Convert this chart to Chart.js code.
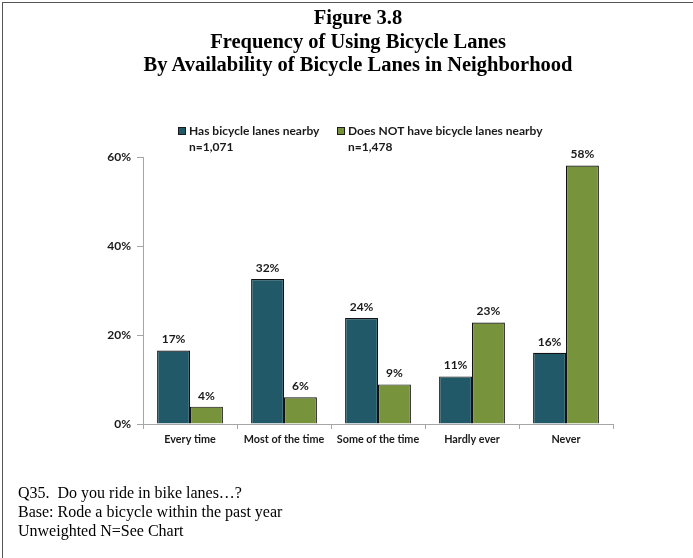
<!DOCTYPE html>
<html>
<head>
<meta charset="utf-8">
<script src="https://cdn.jsdelivr.net/npm/chart.js@4.4.1/dist/chart.umd.min.js"></script>
<style>
  html, body { margin: 0; padding: 0; background: #fff; }
  body { width: 693px; height: 558px; position: relative; overflow: hidden; }
  #frame { position: absolute; left: 2px; top: 2px; width: 700px; height: 600px;
           border-left: 1px solid #555; border-top: 1px solid #555; }
  #c { position: absolute; left: 0; top: 0; }
  .title { position: absolute; left: 108px; width: 500px; text-align: center;
           font-family: "Liberation Serif", "Times New Roman", serif; font-weight: bold;
           font-size: 20.5px; color: #000; line-height: 22px; white-space: nowrap; }
  .foot { position: absolute; left: 18px; font-family: "Liberation Serif", "Times New Roman", serif;
          font-size: 16px; color: #000; line-height: 18px; white-space: nowrap; }
</style>
</head>
<body>
<div id="frame"></div>
<canvas id="c" width="693" height="558"></canvas>
<div class="title" style="top:6px">Figure 3.8</div>
<div class="title" style="top:30px">Frequency of Using Bicycle Lanes</div>
<div class="title" style="top:53px">By Availability of Bicycle Lanes in Neighborhood</div>
<div class="foot" style="top:484px">Q35.&nbsp; Do you ride in bike lanes…?</div>
<div class="foot" style="top:503px">Base: Rode a bicycle within the past year</div>
<div class="foot" style="top:522px">Unweighted N=See Chart</div>
<script>
const categories = ['Every time', 'Most of the time', 'Some of the time', 'Hardly ever', 'Never'];
const seriesNames = ['Has bicycle lanes nearby', 'Does NOT have bicycle lanes nearby'];
const seriesN = ['n=1,071', 'n=1,478'];
const hasLanes = [16.5, 32.6, 23.8, 10.7, 16.0];
const noLanes = [3.9, 6.0, 8.9, 22.8, 58.1];
const hasLabels = ['17%', '32%', '24%', '11%', '16%'];
const noLabels = ['4%', '6%', '9%', '23%', '58%'];
const yTicks = [0, 20, 40, 60];

const colors = ['#215968', '#77933C'];
const FONT = 'Lato, "Open Sans", sans-serif';

const valueLabelPlugin = {
  id: 'valueLabels',
  afterDatasetsDraw(chart) {
    const ctx = chart.ctx;
    const labelSets = [hasLabels, noLabels];
    ctx.save();
    ctx.font = 'bold 12px ' + FONT;
    ctx.fillStyle = '#1a1a1a';
    ctx.textAlign = 'center';
    ctx.textBaseline = 'bottom';
    chart.data.datasets.forEach((ds, di) => {
      const meta = chart.getDatasetMeta(di);
      meta.data.forEach((el, i) => {
        ctx.fillText(labelSets[di][i], el.x, el.y - 5);
      });
    });
    ctx.restore();
  }
};

const legendPlugin = {
  id: 'customLegend',
  afterDraw(chart) {
    const ctx = chart.ctx;
    const xs = [178, 337];
    ctx.save();
    ctx.font = 'bold 12px ' + FONT;
    ctx.textBaseline = 'alphabetic';
    ctx.textAlign = 'left';
    seriesNames.forEach((name, i) => {
      const x = xs[i];
      ctx.fillStyle = colors[i];
      ctx.fillRect(x + 0.5, 127.5, 7, 7);
      ctx.strokeStyle = '#1a1a1a';
      ctx.lineWidth = 1;
      ctx.strokeRect(x + 0.5, 127.5, 7, 7);
      ctx.fillStyle = '#1a1a1a';
      ctx.fillText(name, x + 11, 135);
      ctx.fillText(seriesN[i], x + 11, 151);
    });
    ctx.restore();
  }
};

new Chart(document.getElementById('c'), {
  type: 'bar',
  data: {
    labels: categories,
    datasets: [
      { label: seriesNames[0], data: hasLanes, backgroundColor: colors[0], borderColor: '#111', borderWidth: 1.2,
        categoryPercentage: 0.7, barPercentage: 1.0 },
      { label: seriesNames[1], data: noLanes, backgroundColor: colors[1], borderColor: '#111', borderWidth: 1.2,
        categoryPercentage: 0.7, barPercentage: 1.0 }
    ]
  },
  options: {
    responsive: false,
    animation: false,
    devicePixelRatio: 1,
    layout: { padding: { top: 157, right: 80, left: 0, bottom: 0 } },
    plugins: { legend: { display: false }, tooltip: { enabled: false }, title: { display: false } },
    scales: {
      x: {
        grid: { display: true, drawOnChartArea: false, offset: true, tickLength: 5, color: '#a6a6a6' },
        border: { display: true, color: '#a6a6a6', width: 1 },
        ticks: { color: '#1a1a1a', font: { family: FONT, size: 10.8, weight: 'bold' }, padding: 4, maxRotation: 0, autoSkip: false },
        afterFit(s) { s.height = 558 - 424; }
      },
      y: {
        min: 0, max: 60,
        afterBuildTicks(s) { s.ticks = yTicks.map(v => ({ value: v })); },
        grid: { display: true, drawOnChartArea: false, tickLength: 6, color: '#a6a6a6' },
        border: { display: true, color: '#a6a6a6', width: 1 },
        ticks: { color: '#1a1a1a', font: { family: FONT, size: 12, weight: 'bold' }, padding: 6,
                 callback: v => v + '%' },
        afterFit(s) { s.width = 143; }
      }
    }
  },
  plugins: [valueLabelPlugin, legendPlugin]
});
</script>
</body>
</html>
